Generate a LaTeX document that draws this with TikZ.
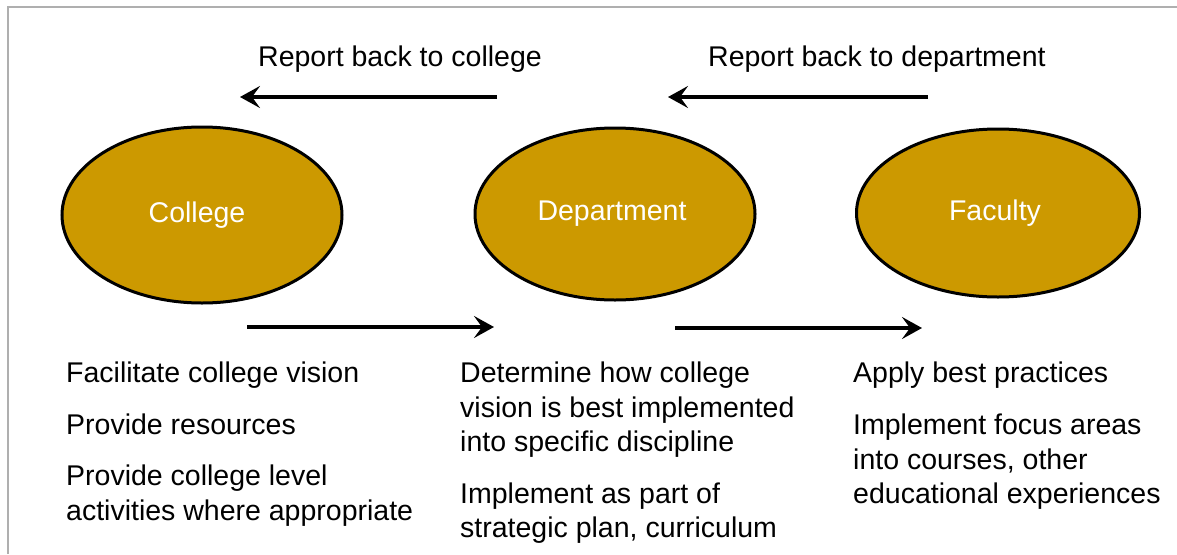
\documentclass[tikz,border=0pt]{standalone}
\usepackage{fontspec}
\setmainfont{Liberation Sans}
\usetikzlibrary{shapes.geometric,arrows.meta}
\definecolor{gold}{RGB}{204,153,0}
\definecolor{frame}{RGB}{175,175,175}
\tikzset{
  unit/.style={ellipse, draw=black, line width=3pt, fill=gold, inner sep=0pt},
  unitname/.style={inner sep=0pt, text=white, font=\fontsize{28.5}{34.5}\selectfont},
  label/.style={inner sep=0pt, anchor=base west,
    font=\fontsize{28.5}{34.5}\selectfont},
  flow/.style={line width=4pt, -{Stealth[length=20pt,width=22pt,inset=8pt]}}
}
\begin{document}
\begin{tikzpicture}[x=1pt,y=-1pt]
\useasboundingbox (0,0) rectangle (1177,554);
\fill[white] (0,0) rectangle (1177,554);
\draw[frame, line width=2pt] (7.5,554) -- (7.5,6.5) -- (1177,6.5);

\node[unit, minimum width=280pt, minimum height=176pt] (college) at (202,215) {};
\node[unit, minimum width=280pt, minimum height=172pt] (dept) at (615,214) {};
\node[unit, minimum width=283pt, minimum height=168pt] (faculty) at (998,213) {};
\node[unitname] (collegeT) at (197,215) {College};
\node[unitname] (deptT) at (612,214) {Department};
\node[unitname] (facultyT) at (995,213) {Faculty};

\node[label] (rbc) at (258,66) {Report back to college};
\node[label] (rbd) at (708,66) {Report back to department};

\coordinate (t1s) at (497,97);
\coordinate (t1e) at (240,97);
\coordinate (t2s) at (928,97);
\coordinate (t2e) at (668,97);
\coordinate (b1s) at (247,327);
\coordinate (b1e) at (494,327);
\coordinate (b2s) at (675,328);
\coordinate (b2e) at (922,328);
\draw[flow] (t1s) -- (t1e);
\draw[flow] (t2s) -- (t2e);
\draw[flow] (b1s) -- (b1e);
\draw[flow] (b2s) -- (b2e);

\node[label] (l1) at (66,382) {Facilitate college vision};
\node[label] (l2) at (66,434) {Provide resources};
\node[label] (l3a) at (66,485) {Provide college level};
\node[label] (l3b) at (66,520) {activities where appropriate};

\node[label] (m1a) at (460,382) {Determine how college};
\node[label] (m1b) at (460,417) {vision is best implemented};
\node[label] (m1c) at (460,451) {into specific discipline};
\node[label] (m2a) at (460,503) {Implement as part of};
\node[label] (m2b) at (460,537) {strategic plan, curriculum};

\node[label] (r1) at (853,382) {Apply best practices};
\node[label] (r2a) at (853,434) {Implement focus areas};
\node[label] (r2b) at (853,469) {into courses, other};
\node[label] (r2c) at (853,503) {educational experiences};
\end{tikzpicture}
\end{document}
